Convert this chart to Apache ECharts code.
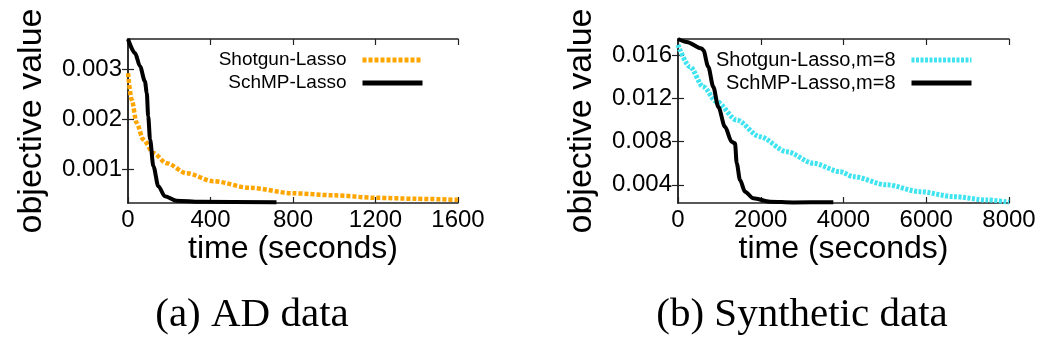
<!DOCTYPE html>
<html>
<head>
<meta charset="utf-8">
<script src="https://cdn.jsdelivr.net/npm/echarts@6/dist/echarts.min.js"></script>
<style>
html, body { margin: 0; padding: 0; background: #fff; }
#chart { width: 1056px; height: 350px; }
</style>
</head>
<body>
<div id="chart"></div>
<script>
// (a) AD data : [time (s), objective value]
const adShotgun = [[0, 0.00292], [18, 0.00239], [42, 0.00193], [74, 0.00160], [123, 0.00133], [187, 0.00113],
  [284, 0.00093], [413, 0.00077], [591, 0.00064], [800, 0.00053], [1000, 0.00049], [1200, 0.00044],
  [1400, 0.00042], [1600, 0.00040]];
const adSchmp = [[0, 0.00360], [34, 0.00332], [58, 0.00306], [82, 0.00276], [91, 0.00253], [98, 0.00206],
  [107, 0.00160], [123, 0.00107], [147, 0.00067], [179, 0.00047], [236, 0.00038], [349, 0.00036],
  [720, 0.00035]];
const adYTicks = [0.001, 0.002, 0.003];

// (b) Synthetic data
const synShotgun = [[0, 0.01695], [290, 0.01492], [612, 0.01307], [935, 0.01169], [1419, 0.01000],
  [1982, 0.00845], [2627, 0.00707], [3271, 0.00600], [3916, 0.00522], [4237, 0.00476], [5044, 0.00400],
  [5849, 0.00337], [6654, 0.00291], [7460, 0.00260], [8000, 0.00240]];
const synSchmp = [[0, 0.01750], [210, 0.01723], [573, 0.01662], [612, 0.01646], [732, 0.01492], [853, 0.01307],
  [974, 0.01122], [1136, 0.00937], [1298, 0.00799], [1378, 0.00784], [1419, 0.00600], [1499, 0.00445],
  [1619, 0.00337], [1820, 0.00276], [2224, 0.00244], [2787, 0.00237], [3754, 0.00240]];
const synYTicks = [0.004, 0.008, 0.012, 0.016];

const FONT = 'Liberation Sans';
const frame = { show: true, lineStyle: { color: '#222', width: 1.5 } };
const tick = { show: true, inside: true, length: 6, lineStyle: { color: '#222', width: 1.2 } };

function xAxes(grid, max, interval) {
  return [
    {
      type: 'value', gridIndex: grid, min: 0, max: max, interval: interval, position: 'bottom',
      name: 'time (seconds)', nameLocation: 'middle', nameGap: 21,
      nameTextStyle: { fontFamily: FONT, fontSize: 32, color: '#000' },
      axisLine: frame, axisTick: tick, splitLine: { show: false },
      axisLabel: { fontFamily: FONT, fontSize: 24, color: '#000', margin: 5, formatter: v => String(v) }
    },
    {
      type: 'value', gridIndex: grid, min: 0, max: max, interval: interval, position: 'top',
      axisLine: frame, axisTick: tick, splitLine: { show: false }, axisLabel: { show: false }
    }
  ];
}

function yAxes(grid, min, max, ticks) {
  return [
    {
      type: 'value', gridIndex: grid, min: min, max: max, position: 'left',
      name: 'objective value', nameLocation: 'middle', nameRotate: 90, nameGap: 79,
      nameTextStyle: { fontFamily: FONT, fontSize: 34, color: '#000' },
      axisLine: frame, axisTick: Object.assign({ customValues: ticks }, tick), splitLine: { show: false },
      axisLabel: { customValues: ticks, fontFamily: FONT, fontSize: 24, color: '#000', margin: 6,
        formatter: v => v.toFixed(3) }
    },
    {
      type: 'value', gridIndex: grid, min: min, max: max, position: 'right',
      axisLine: frame, axisTick: Object.assign({ customValues: ticks }, tick), splitLine: { show: false },
      axisLabel: { show: false }
    }
  ];
}

function legend(items, right, size) {
  return {
    data: items.map(it => ({
      name: it.name,
      itemStyle: { color: 'rgba(0,0,0,0)', borderWidth: 0, opacity: 0 },
      lineStyle: { color: it.color, width: it.width, type: it.dash || 'solid', opacity: 1 }
    })),
    orient: 'vertical', align: 'right', right: right, top: 45,
    itemWidth: 60, itemHeight: 20, itemGap: 3,
    textStyle: { fontFamily: FONT, fontSize: size, color: '#000', lineHeight: 20, padding: [0, 11, 0, 0] }
  };
}

function line(name, data, xi, yi, color, width, dash) {
  return {
    name: name, type: 'line', data: data, xAxisIndex: xi, yAxisIndex: yi,
    symbol: 'none', smooth: 0.3, smoothMonotone: 'x',
    lineStyle: { color: color, width: width, type: dash || 'solid' },
    itemStyle: { color: color }
  };
}

const chart = echarts.init(document.getElementById('chart'));
chart.setOption({
  animation: false,
  title: [
    { text: '(a) AD data', left: 252, top: 295, textAlign: 'center', padding: 0,
      textStyle: { fontFamily: 'Liberation Serif', fontSize: 41, fontWeight: 'normal', color: '#000' } },
    { text: '(b) Synthetic data', left: 802, top: 295, textAlign: 'center', padding: 0,
      textStyle: { fontFamily: 'Liberation Serif', fontSize: 41, fontWeight: 'normal', color: '#000' } }
  ],
  grid: [
    { left: 128, top: 39, width: 330, height: 164 },
    { left: 678, top: 39, width: 331, height: 164 }
  ],
  legend: [
    legend([
      { name: 'Shotgun-Lasso', color: '#ffa500', width: 5, dash: [4, 2] },
      { name: 'SchMP-Lasso', color: '#000', width: 5 }
    ], 626, 19),
    legend([
      { name: 'Shotgun-Lasso,m=8', color: '#40e4f0', width: 5, dash: [3, 1.5] },
      { name: 'SchMP-Lasso,m=8', color: '#000', width: 5 }
    ], 77, 20)
  ],
  xAxis: xAxes(0, 1600, 400).concat(xAxes(1, 8000, 2000)),
  yAxis: yAxes(0, 0.000337, 0.0036, adYTicks).concat(yAxes(1, 0.00232, 0.0175, synYTicks)),
  series: [
    line('Shotgun-Lasso', adShotgun, 0, 0, '#ffa500', 4.5, [4, 2]),
    line('SchMP-Lasso', adSchmp, 0, 0, '#000', 4),
    line('Shotgun-Lasso,m=8', synShotgun, 2, 2, '#40e4f0', 5, [3, 1.5]),
    line('SchMP-Lasso,m=8', synSchmp, 2, 2, '#000', 4)
  ]
});
</script>
</body>
</html>
